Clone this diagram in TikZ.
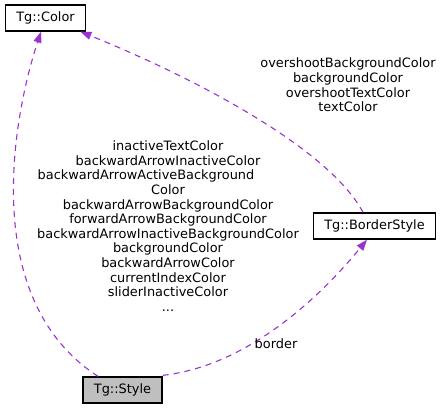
\documentclass[tikz,border=0pt]{standalone}
\usepackage{fontspec}
\setmainfont{DejaVu Sans}
\usetikzlibrary{arrows.meta, positioning}
\definecolor{cpurple}{HTML}{9A32CD}
\definecolor{cboxgrey}{HTML}{BFBFBF}
\tikzset{
  every picture/.style={line width=1pt},
  klass/.style={draw=black, fill=#1, inner xsep=11pt, minimum height=26pt, line width=1.3pt, font=\fontsize{12.9}{14.6}\selectfont},
  klass/.default=white,
  uses/.style={-{Triangle[length=11pt, width=8pt]}, draw=cpurple, fill=none, line width=1.1pt, dash pattern=on 6pt off 5pt},
  memberlist/.style={align=center, inner sep=0pt, font=\fontsize{12.9}{14.6}\selectfont},
}

\begin{document}
\begin{tikzpicture}[x=1pt, y=-1pt]
  \useasboundingbox (0,0) rectangle (443,409);
  % classes
  \node[klass] (color) at (45.5,18) {Tg::Color};
  \node[klass] (bstyle) at (374.5,226) {Tg::BorderStyle};
  \node[klass=cboxgrey] (style) at (122.5,390) {Tg::Style};
  % member edges
  \draw[uses] ([xshift=-24.5pt]style.north) .. controls (-20,300) and (12,120) .. ([xshift=-4.5pt]color.south);
  \draw[uses] ([xshift=-11.5pt]bstyle.north) .. controls (330,150) and (200,80) .. ([xshift=-6pt]color.south east);
  \draw[uses] ([yshift=1pt]style.north east) .. controls (255,365) and (330,285) .. ([xshift=-7.5pt]bstyle.south);
  % edge labels
  \node[memberlist] (lblstyle) at (168,226) {inactiveTextColor\\backwardArrowInactiveColor\\backwardArrowActiveBackground\rule{44pt}{0pt}\\Color\\backwardArrowBackgroundColor\\forwardArrowBackgroundColor\\backwardArrowInactiveBackgroundColor\\backgroundColor\\backwardArrowColor\\currentIndexColor\\sliderInactiveColor\\...};
  \node[memberlist] (lblbstyle) at (348,85) {overshootBackgroundColor\\backgroundColor\\overshootTextColor\\textColor};
  \node[memberlist] (lblborder) at (276,344) {border};
\end{tikzpicture}
\end{document}
